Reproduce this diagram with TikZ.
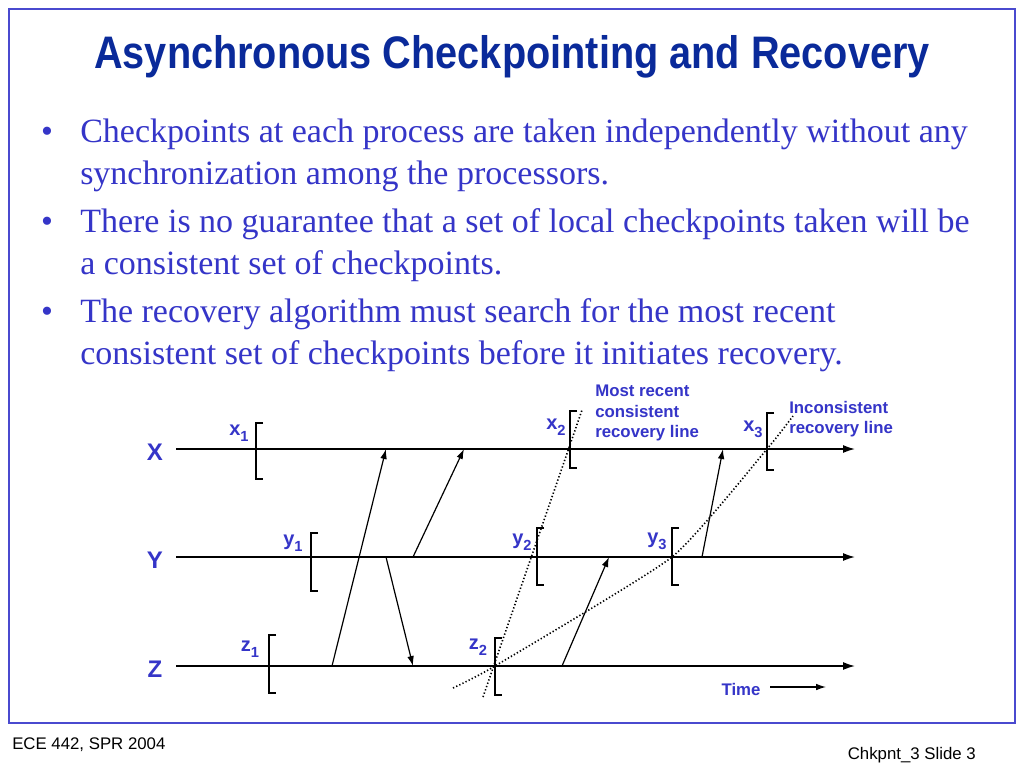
\documentclass[tikz,border=0pt]{standalone}
\usepackage{fontspec}
\setmainfont{Liberation Serif}
\setsansfont{Liberation Sans}
\newfontfamily\titlefont[FakeStretch=0.87]{Liberation Sans}
\usetikzlibrary{arrows.meta}
\definecolor{titleblue}{HTML}{0A2A9A}
\definecolor{textblue}{HTML}{3535C8}
\definecolor{frameblue}{HTML}{4A4ACF}
\begin{document}
\begin{tikzpicture}[x=0.75pt,y=-0.75pt,
  bodytext/.style={anchor=base west,inner sep=0,text=textblue,font=\fontsize{25.5}{30}\selectfont},
  bulletmark/.style={anchor=base,inner sep=0,text=textblue,font=\fontsize{25.5}{30}\selectfont},
  proc/.style={line width=1.1pt,-{Latex[length=9pt,width=6pt]}},
  msg/.style={line width=0.9pt,-{Latex[length=7.5pt,width=5pt]}},
  ckpt/.style={line width=1.8pt},
  recline/.style={line width=1.2pt,dash pattern=on 1pt off 1.6pt},
  plabel/.style={text=textblue,font=\sffamily\bfseries\fontsize{18}{20}\selectfont,inner sep=0},
  cklabel/.style={text=textblue,font=\sffamily\bfseries\fontsize{15}{17}\selectfont,inner sep=0},
  note/.style={text=textblue,font=\sffamily\bfseries\fontsize{12.6}{15.4}\selectfont,inner sep=0,align=left},
  foot/.style={inner sep=0,font=\sffamily\fontsize{12.6}{14}\selectfont}]
\useasboundingbox (0,0) rectangle (1024,768);
\fill[white] (0,0) rectangle (1024,768);
\draw[frameblue,line width=1.5pt] (9,9) rectangle (1015,723);

% title
\node[text=titleblue,font=\titlefont\bfseries\fontsize{34.2}{40}\selectfont,inner sep=0] (title) at (512,57) {Asynchronous Checkpointing and Recovery};

% bullets
\node[bulletmark] (b1) at (47,142) {•};
\node[bodytext] (t1a) at (80,142) {Checkpoints at each process are taken independently without any};
\node[bodytext] (t1b) at (80,184) {synchronization among the processors.};
\node[bulletmark] (b2) at (47,232) {•};
\node[bodytext] (t2a) at (80,232) {There is no guarantee that a set of local checkpoints taken will be};
\node[bodytext] (t2b) at (80,274) {a consistent set of checkpoints.};
\node[bulletmark] (b3) at (47,322) {•};
\node[bodytext] (t3a) at (80,322) {The recovery algorithm must search for the most recent};
\node[bodytext] (t3b) at (80,364) {consistent set of checkpoints before it initiates recovery.};

% process lines
\coordinate (X0) at (176,449); \coordinate (X1) at (855,449);
\coordinate (Y0) at (176,557); \coordinate (Y1) at (855,557);
\coordinate (Z0) at (176,666); \coordinate (Z1) at (855,666);
\draw[proc] (X0) -- (X1);
\draw[proc] (Y0) -- (Y1);
\draw[proc] (Z0) -- (Z1);
\node[plabel] (LX) at (155,452) {X};
\node[plabel] (LY) at (155,560) {Y};
\node[plabel] (LZ) at (155,669) {Z};

% checkpoints
\draw[ckpt] (263,423) -- (256,423) -- (256,479) -- (263,479);
\draw[ckpt] (318,533) -- (311,533) -- (311,591) -- (318,591);
\draw[ckpt] (276,635) -- (269,635) -- (269,693) -- (276,693);
\draw[ckpt] (577,411) -- (570,411) -- (570,468) -- (577,468);
\draw[ckpt] (774,413) -- (767,413) -- (767,470) -- (774,470);
\draw[ckpt] (544,528) -- (537,528) -- (537,585) -- (544,585);
\draw[ckpt] (679,528) -- (672,528) -- (672,585) -- (679,585);
\draw[ckpt] (502,638) -- (495,638) -- (495,695) -- (502,695);

\node[cklabel] (lx1) at (239,433) {x\raisebox{-0.3em}{\fontsize{11}{12}\selectfont 1}};
\node[cklabel] (ly1) at (293,543) {y\raisebox{-0.3em}{\fontsize{11}{12}\selectfont 1}};
\node[cklabel] (lz1) at (250,649) {z\raisebox{-0.3em}{\fontsize{11}{12}\selectfont 1}};
\node[cklabel] (lx2) at (556,427) {x\raisebox{-0.3em}{\fontsize{11}{12}\selectfont 2}};
\node[cklabel] (ly2) at (522,542) {y\raisebox{-0.3em}{\fontsize{11}{12}\selectfont 2}};
\node[cklabel] (lx3) at (753,429) {x\raisebox{-0.3em}{\fontsize{11}{12}\selectfont 3}};
\node[cklabel] (ly3) at (657,541) {y\raisebox{-0.3em}{\fontsize{11}{12}\selectfont 3}};
\node[cklabel] (lz2) at (478,647) {z\raisebox{-0.3em}{\fontsize{11}{12}\selectfont 2}};

% messages
\coordinate (m1s) at (332,666); \coordinate (m1e) at (386,449);
\coordinate (m2s) at (413,557); \coordinate (m2e) at (464,449);
\coordinate (m3s) at (386,557); \coordinate (m3e) at (413,666);
\coordinate (m4s) at (562,666); \coordinate (m4e) at (609,557);
\coordinate (m5s) at (702,557); \coordinate (m5e) at (723,449);
\draw[msg] (m1s) -- (m1e);
\draw[msg] (m2s) -- (m2e);
\draw[msg] (m3s) -- (m3e);
\draw[msg] (m4s) -- (m4e);
\draw[msg] (m5s) -- (m5e);

% recovery lines
\coordinate (c0) at (483,697); \coordinate (c1) at (582,410);
\draw[recline] (c0) -- (c1);
\draw[recline] plot[smooth,tension=0.3] coordinates {(453,688) (495,666) (672,557) (767,449) (793,416)};

\node[note,anchor=north west] (n1) at (595,385) {Most recent\\consistent\\recovery line};
\node[note,anchor=north west] (n2) at (789,401) {Inconsistent\\recovery line};

\node[note] (time) at (741,689) {Time};
\coordinate (ta) at (770,687); \coordinate (tb) at (826,687);
\draw[msg] (ta) -- (tb);

% footer
\node[foot,anchor=base west] (f1) at (12,749) {ECE 442, SPR 2004};
\node[foot,anchor=base east] (f2) at (976,759) {Chkpnt\_3 Slide 3};
\end{tikzpicture}
\end{document}
